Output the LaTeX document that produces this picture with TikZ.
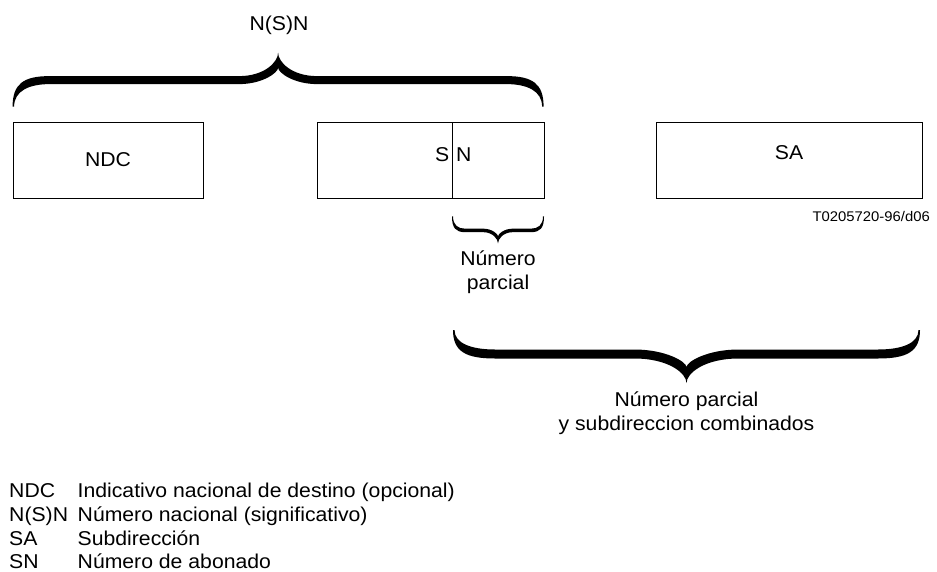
\documentclass[tikz,border=0pt]{standalone}
\usepackage{fontspec}
\setmainfont{Liberation Sans}[FakeStretch=1.06]
\usepackage{tikz}
\usetikzlibrary{positioning}

% filled curly brace in local coordinates: ends at y=0, tip at y=#3
% #1 width, #2 middle line, #3 tip, #4 thickness, #5 end run, #6 tip run, #7 end thickness
\newcommand{\bracefill}[7]{%
  \pgfmathsetmacro{\brc}{#1/2}
  \pgfmathsetmacro{\bro}{#2+#4/2}
  \pgfmathsetmacro{\bri}{#2-#4/2}
  \pgfmathsetmacro{\brk}{#2+0.45*(#3-#2)}
  \fill (0,0) .. controls (0,{0.75*\bro}) and ({0.3*#5},\bro) .. (#5,\bro)
    -- ({\brc-#6},\bro) .. controls ({\brc-0.35*#6},\bro) and (\brc,{0.6*#3+0.4*\bro}) .. (\brc,#3)
    .. controls (\brc,{0.6*#3+0.4*\bro}) and ({\brc+0.35*#6},\bro) .. ({\brc+#6},\bro)
    -- ({#1-#5},\bro) .. controls ({#1-0.3*#5},\bro) and (#1,{0.75*\bro}) .. (#1,0)
    -- ({#1-#7},0) .. controls ({#1-#7},{0.7*\bri}) and ({#1-0.45*#5},\bri) .. ({#1-#5},\bri)
    -- ({\brc+#6},\bri) .. controls ({\brc+0.4*#6},\bri) and (\brc,{\brk-0.3*(\brk-\bri)}) .. (\brc,\brk)
    .. controls (\brc,{\brk-0.3*(\brk-\bri)}) and ({\brc-0.4*#6},\bri) .. ({\brc-#6},\bri)
    -- (#5,\bri) .. controls ({0.45*#5},\bri) and (#7,{0.7*\bri}) .. (#7,0) -- cycle;
}

\begin{document}
\begin{tikzpicture}[
    x=1pt, y=-1pt,
    field/.style={draw, line width=0.8pt, minimum height=76pt, inner sep=0pt,
                  font=\fontsize{20}{24}\selectfont},
    lbl/.style={inner sep=0pt, font=\fontsize{20}{24}\selectfont},
    small/.style={inner sep=0pt, font=\fontsize{14}{16}\selectfont},
  ]
  \useasboundingbox (0,0) rectangle (937,571);

  % the three fields
  \node[field, minimum width=190pt] (ndc)   at (108,160) {NDC};
  \node[field, minimum width=227pt] (snbox) at (430.5,160) {};
  \node[field, minimum width=266pt] (sa)    at (789,160) {};

  \coordinate (cut) at (452,122);
  \draw[line width=0.8pt] (cut) -- (cut |- snbox.south);
  \node[lbl, anchor=east] (s) at (449.5,155) {S};
  \node[lbl, anchor=west] (n) at (456,155) {N};
  \node[lbl] (satext) at ([yshift=7pt]sa.center) {SA};
  \node[small, anchor=base east] (ref) at (930,221) {T0205720-96/d06};

  % braces
  \begin{scope}[shift={([yshift=15pt]ndc.north west)}, yscale=-1]
    \bracefill{531}{26.5}{54}{8}{37}{39}{1.5}
  \end{scope}
  \node[lbl, anchor=base] (nsn) at (279,30) {N(S)N};

  \begin{scope}[shift={([yshift=-18pt]cut |- snbox.south)}]
    \bracefill{92}{14}{27}{3.5}{13}{15}{1}
  \end{scope}
  \node[lbl, anchor=base, align=center] (partial) at (498,289) {Número\\parcial};

  \begin{scope}[shift={(453,330)}]
    \bracefill{467}{24}{53}{9}{42}{52}{1.5}
  \end{scope}
  \node[lbl, anchor=base, align=center] (combined) at (686.5,430)
    {Número parcial\\y subdireccion combinados};

  % key
  \node[lbl, anchor=base west] (key1) at (9,497)   {NDC};
  \node[lbl, anchor=base west] (key2) at (9,521)   {N(S)N};
  \node[lbl, anchor=base west] (key3) at (9,545)   {SA};
  \node[lbl, anchor=base west] (key4) at (9,568)   {SN};
  \node[lbl, anchor=base west] (txt1) at (77.5,497) {Indicativo nacional de destino (opcional)};
  \node[lbl, anchor=base west] (txt2) at (77.5,521) {Número nacional (significativo)};
  \node[lbl, anchor=base west] (txt3) at (77.5,545) {Subdirección};
  \node[lbl, anchor=base west] (txt4) at (77.5,568) {Número de abonado};
\end{tikzpicture}
\end{document}
